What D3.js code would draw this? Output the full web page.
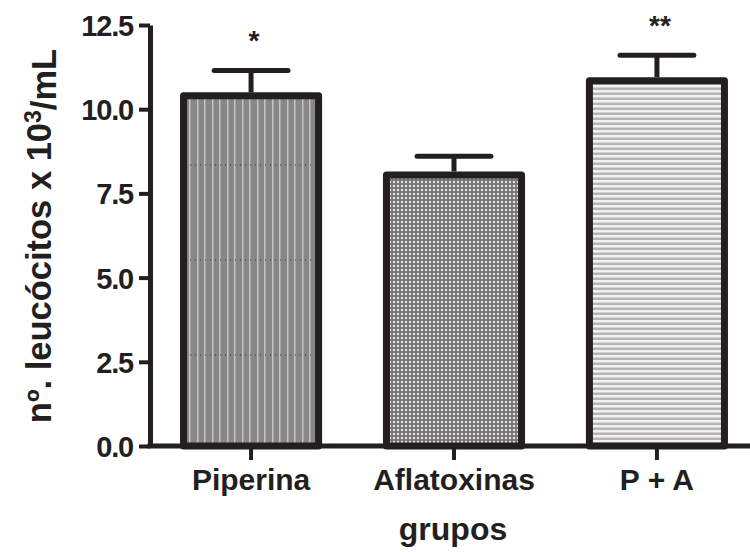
<!DOCTYPE html>
<html>
<head>
<meta charset="utf-8">
<script src="https://cdn.jsdelivr.net/npm/d3@7"></script>
<style>
  body { margin: 0; background: #fff; }
  svg text { font-family: "Liberation Sans", Arial, sans-serif; font-weight: bold; fill: #231f20; }
</style>
</head>
<body>
<div id="chart"></div>
<script>
// données
const grupos = ["Piperina", "Aflatoxinas", "P + A"];
const medias = [10.5, 8.15, 10.95];
const erros = [0.65, 0.45, 0.65];
const signif = ["*", "", "**"];
const yTicks = [0, 2.5, 5, 7.5, 10, 12.5];

const width = 750, height = 552;
const ink = "#231f20";

const svg = d3.select("#chart").append("svg")
  .attr("width", width)
  .attr("height", height);

// motifs de remplissage
const defs = svg.append("defs");

let p1 = defs.append("pattern").attr("id", "pat0")
  .attr("patternUnits", "userSpaceOnUse").attr("width", 30).attr("height", 95);
p1.append("rect").attr("width", 30).attr("height", 95).attr("fill", "#878787");
[2, 9, 17, 24].forEach(x => {
  p1.append("rect").attr("x", x).attr("y", 0).attr("width", 1.5).attr("height", 95).attr("fill", "#c4c4c4");
});
p1.append("line").attr("x1", 0).attr("x2", 30).attr("y1", 70).attr("y2", 70)
  .attr("stroke", "#333").attr("stroke-width", 1).attr("stroke-dasharray", "1,4");

let p2 = defs.append("pattern").attr("id", "pat1")
  .attr("patternUnits", "userSpaceOnUse").attr("width", 4).attr("height", 4);
p2.append("rect").attr("width", 4).attr("height", 4).attr("fill", "#7a7a7a");
p2.append("rect").attr("x", 1).attr("y", 1).attr("width", 2).attr("height", 2).attr("fill", "#e6e6e6");

let p3 = defs.append("pattern").attr("id", "pat2")
  .attr("patternUnits", "userSpaceOnUse").attr("width", 10).attr("height", 5);
p3.append("rect").attr("width", 10).attr("height", 5).attr("fill", "#b5b5b5");
p3.append("rect").attr("y", 0).attr("width", 10).attr("height", 2.5).attr("fill", "#f2f2f2");

// échelles
const y = d3.scaleLinear().domain([0, 12.5]).range([446, 25]);
const x = d3.scaleBand().domain(grupos).range([150, 758])
  .paddingInner(0.3).paddingOuter(0.148);

// barres
const bars = svg.append("g");
grupos.forEach((g, i) => {
  const bx = x(g), bw = x.bandwidth();
  const cx = bx + bw / 2;
  // barre d'erreur
  bars.append("line")
    .attr("x1", cx).attr("x2", cx)
    .attr("y1", y(medias[i])).attr("y2", y(medias[i] + erros[i]))
    .attr("stroke", ink).attr("stroke-width", 5);
  bars.append("line")
    .attr("x1", cx - bw * 0.26).attr("x2", cx + bw * 0.26)
    .attr("y1", y(medias[i] + erros[i])).attr("y2", y(medias[i] + erros[i]))
    .attr("stroke", ink).attr("stroke-width", 5).attr("stroke-linecap", "round");
  bars.append("rect")
    .attr("x", bx + 3.5).attr("y", y(medias[i]) + 3.5)
    .attr("width", bw - 7).attr("height", y(0) - y(medias[i]) - 3.5)
    .attr("fill", "url(#pat" + i + ")")
    .attr("stroke", ink).attr("stroke-width", 7)
    .attr("stroke-linejoin", "round");
  if (signif[i]) {
    svg.append("text")
      .attr("x", cx + 3).attr("y", y(medias[i] + erros[i]) - 20)
      .attr("text-anchor", "middle")
      .style("font-size", "28px")
      .text(signif[i]);
  }
});

// axe Y
const yAxis = svg.append("g")
  .attr("transform", "translate(150,0)")
  .call(d3.axisLeft(y).tickValues(yTicks).tickFormat(d3.format(".1f")).tickSize(11).tickSizeOuter(0));
yAxis.select(".domain").attr("stroke", ink).attr("stroke-width", 5);
yAxis.selectAll(".tick line").attr("stroke", ink).attr("stroke-width", 4);
yAxis.selectAll(".tick text").attr("x", -17).attr("dy", "0.36em")
  .style("font-size", "29px").style("letter-spacing", "-1.2px");

// axe X
const xAxis = svg.append("g")
  .attr("transform", "translate(0,446)")
  .call(d3.axisBottom(x).tickSize(14).tickSizeOuter(0));
xAxis.select(".domain").attr("d", "M147.5,0H750").attr("stroke", ink).attr("stroke-width", 5);
xAxis.selectAll(".tick line").attr("stroke", ink).attr("stroke-width", 4);
xAxis.selectAll(".tick text").attr("y", 44).attr("dy", null)
  .style("font-size", "30px");

// titres
svg.append("text")
  .attr("x", 453).attr("y", 540)
  .attr("text-anchor", "middle")
  .style("font-size", "32px")
  .text("grupos");

const yl = svg.append("text")
  .attr("transform", "translate(51,236) rotate(-90)")
  .attr("text-anchor", "middle")
  .style("font-size", "34.5px");
yl.append("tspan").text("nº. leucócitos x 10");
yl.append("tspan").attr("dy", "-0.45em").style("font-size", "23px").text("3");
yl.append("tspan").attr("dy", "0.45em").text("/mL");
</script>
</body>
</html>
